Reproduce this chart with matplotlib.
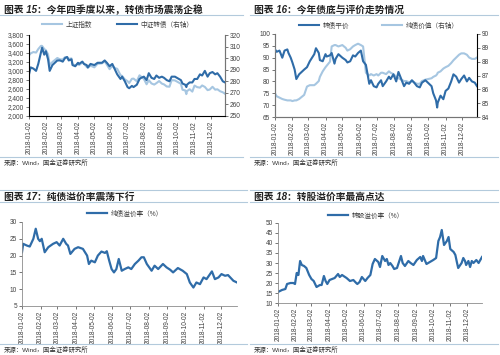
import numpy as np
import pandas as pd
import matplotlib
matplotlib.use("Agg")
import matplotlib.pyplot as plt
import matplotlib.dates as mdates
from matplotlib.ticker import FuncFormatter, MultipleLocator

plt.rcParams['font.family'] = ['Liberation Sans', 'Noto Sans CJK SC']

# ---------------- data ----------------
# chart 15: 上证指数 (left) / 中证转债 (right)
d15 = ["01-02","01-05","01-10","01-15","01-19","01-24","01-26","01-30","02-02","02-06",
       "02-09","02-14","02-23","02-28","03-05","03-09","03-13","03-16","03-21","03-23",
       "03-28","04-02","04-04","04-10","04-13","04-18","04-20","04-25","05-02","05-08",
       "05-11","05-16","05-21","05-25","05-30","06-04","06-08","06-13","06-19","06-22",
       "06-27","07-02","07-05","07-10","07-13","07-19","07-24","07-27","08-01","08-06",
       "08-10","08-15","08-20","08-24","08-29","09-03","09-07","09-12","09-17","09-21",
       "09-27","10-08","10-11","10-16","10-18","10-19","10-24","10-29","11-02","11-07",
       "11-12","11-16","11-21","11-26","11-30","12-05","12-10","12-14","12-19","12-24","12-28"]
sh_index = [3349,3391,3421,3410,3487,3559,3558,3488,3462,3370,
            3129,3199,3289,3259,3256,3307,3310,3269,3280,3153,
            3122,3163,3131,3190,3159,3091,3071,3118,3081,3161,
            3163,3170,3213,3141,3041,3114,3067,3049,2908,2890,
            2813,2775,2733,2827,2831,2772,2905,2873,2824,2705,
            2795,2723,2698,2730,2777,2720,2702,2656,2651,2797,
            2791,2716,2583,2568,2486,2550,2595,2542,2676,2641,
            2630,2679,2646,2575,2588,2649,2585,2594,2550,2527,2494]
cb_index = [286,292,291,289,295,305,309,303,306,299,
            289,294,298,298,297,300,301,298,299,294,
            293,296,295,297,295,294,292,295,294,296,
            296,296,298,296,293,295,291,286,282,284,
            280,275,274,276,275,277,282,283,284,281,
            287,283,282,285,283,284,283,281,280,284,
            284,281,278,277,275,277,279,279,282,282,
            286,285,289,284,287,288,286,287,284,280,279]

# chart 16: 转债平价 (left) / 纯债价值 (right)
d16 = d15
parity = [93.5,92.5,93.0,90.0,93.0,93.5,92.0,90.0,88.0,85.0,
          81.0,83.0,85.0,86.0,88.5,90.0,91.5,94.0,92.0,89.0,
          88.5,91.5,90.5,91.0,92.0,87.5,89.5,91.5,90.0,89.0,
          88.0,88.5,91.0,90.5,92.0,93.0,88.5,87.0,79.0,80.5,
          78.0,77.5,79.0,80.5,78.0,80.0,82.0,81.0,83.0,80.0,
          84.0,81.0,78.0,79.5,79.0,80.5,79.5,78.0,77.5,79.5,
          80.5,78.0,75.0,72.0,69.0,71.0,74.0,72.5,76.0,77.0,
          80.0,83.0,82.0,79.5,81.0,82.5,80.0,81.5,80.0,79.5,78.0]
bond_value = [85.7,85.5,85.4,85.3,85.25,85.2,85.2,85.2,85.15,85.2,
              85.2,85.3,85.6,86.2,86.3,86.3,86.3,86.4,86.6,86.9,
              87.3,87.6,87.7,88.0,89.1,89.2,89.2,89.1,89.2,89.0,
              88.8,88.9,89.1,89.2,89.3,89.2,89.1,87.2,87.0,87.1,
              87.0,87.1,87.0,87.2,87.2,87.1,87.3,87.2,87.1,86.9,
              86.8,86.7,86.6,86.6,86.5,86.6,86.5,86.4,86.4,86.6,
              86.7,86.8,86.9,87.0,87.1,87.2,87.3,87.5,87.6,87.7,
              87.9,88.1,88.3,88.5,88.6,88.6,88.5,88.3,88.2,88.2,88.3]

# chart 17: 纯债溢价率 (%)
d17 = ["01-02","01-04","01-10","01-15","01-21","01-25","01-29","02-01","02-04","02-09",
       "02-15","02-23","03-01","03-06","03-12","03-17","03-20","03-24","03-31","04-06",
       "04-14","04-21","04-24","04-28","05-04","05-09","05-15","05-21","05-24","05-28",
       "06-01","06-05","06-09","06-13","06-18","06-23","06-29","07-04","07-10","07-16",
       "07-21","07-25","07-30","08-03","08-07","08-12","08-18","08-26","09-01","09-07",
       "09-12","09-20","09-28","10-05","10-10","10-16","10-21","10-27","11-02","11-07",
       "11-16","11-21","11-27","12-02","12-08","12-13","12-22","12-28"]
bond_premium = [21.0,23.5,23.0,22.7,25.0,28.0,25.0,24.3,25.0,21.0,
                22.5,23.5,24.0,23.0,25.0,23.5,23.0,20.5,22.0,22.5,
                22.0,20.0,17.5,18.5,18.0,20.0,21.2,20.8,21.3,18.5,
                16.0,15.0,16.0,19.0,15.5,16.0,16.5,16.0,17.5,18.5,
                19.5,19.5,17.5,16.5,15.5,17.0,16.0,17.5,16.5,15.8,
                15.0,16.3,15.5,14.5,12.0,10.5,12.0,11.5,13.5,13.0,
                15.3,13.0,13.5,14.5,14.0,14.2,12.5,12.0]

# chart 18: 转股溢价率 (%)
d18 = ["01-02","01-09","01-15","01-18","01-24","01-29","02-01","02-04","02-07","02-10",
       "02-13","02-17","02-21","02-26","03-02","03-06","03-11","03-17","03-20","03-24",
       "03-27","03-30","04-03","04-12","04-18","04-21","04-25","05-03","05-09","05-15",
       "05-20","05-22","05-26","05-30","06-05","06-09","06-14","06-18","06-22","06-28",
       "07-01","07-05","07-10","07-13","07-16","07-19","07-23","07-26","07-31","08-07",
       "08-10","08-14","08-20","08-24","08-29","09-04","09-10","09-13","09-15","09-21",
       "09-27","10-03","10-08","10-12","10-15","10-18","10-22","10-27","10-30","11-02",
       "11-08","11-11","11-14","11-16","11-22","11-25","11-28","11-30","12-04","12-07",
       "12-10","12-13","12-18","12-22","12-28"]
conv_premium = [15.5,16.5,17.0,19.5,20.0,20.0,19.5,25.0,24.0,31.0,
                29.0,28.5,27.5,24.0,22.0,21.0,18.0,19.0,19.0,23.5,
                21.0,19.5,21.5,22.5,24.5,23.0,24.0,22.5,21.0,21.5,
                20.0,19.5,20.5,23.0,21.0,22.5,24.0,29.5,32.0,30.5,
                28.0,33.5,31.0,32.0,29.0,30.0,28.5,27.0,27.5,33.5,
                30.0,28.5,31.0,30.0,29.0,31.5,33.0,31.0,33.5,29.5,
                30.5,31.5,32.5,41.0,43.0,46.5,39.0,41.0,43.0,37.0,
                35.5,34.0,30.0,27.5,30.0,32.5,31.0,29.0,31.0,28.0,
                31.0,30.0,31.5,30.0,33.0]

DARK = "#2f6ca8"
LIGHT = "#a6c6e1"
RULE = "#b3cadc"
TXT = "#404040"
W, H = 500, 355


def to_dt(lst):
    return pd.to_datetime(["2018-" + s for s in lst])


def box(l, t, r, b):
    return [l / W, 1 - b / H, (r - l) / W, (b - t) / H]


def frame(x0, x1, title, y_title, y_src, top_rule=None):
    # title, rules and source note
    y = 1 - y_title / H
    fig.text((x0 + 4) / W, y, title, fontsize=7, fontweight='bold', color="#222222",
             va='center', ha='left', style='italic')
    for yy in ([top_rule] if top_rule else []) + [y_title + 5, y_src - 6]:
        fig.add_artist(plt.Line2D([x0 / W, x1 / W], [1 - yy / H, 1 - yy / H],
                                  color=RULE, lw=0.8))
    fig.text((x0 + 4) / W, 1 - y_src / H, "来源：Wind，国金证券研究所", fontsize=4.6,
             color="#333333", va='center', ha='left')


def style_axes(ax, right=None):
    ax.spines['top'].set_visible(False)
    ax.spines['left'].set_color("#8c8c8c")
    ax.spines['bottom'].set_color("#8c8c8c")
    ax.spines['left'].set_linewidth(0.6)
    ax.spines['bottom'].set_linewidth(0.6)
    if right is None:
        ax.spines['right'].set_visible(False)
    ax.tick_params(axis='both', labelsize=4.7, colors=TXT, length=2, width=0.5,
                   pad=1.5, direction='out')
    ax.tick_params(axis='x', labelrotation=90)
    ax.xaxis.set_major_locator(mdates.MonthLocator(bymonthday=2))
    ax.xaxis.set_major_formatter(mdates.DateFormatter('%Y-%m-%d'))
    ax.set_xlim(pd.Timestamp('2018-01-02'), pd.Timestamp('2018-12-28'))


def style_right(axr):
    axr.spines['top'].set_visible(False)
    axr.spines['right'].set_color("#8c8c8c")
    axr.spines['right'].set_linewidth(0.6)
    axr.tick_params(axis='y', labelsize=4.7, colors=TXT, length=2, width=0.5, pad=1.5)


fig = plt.figure(figsize=(5, 3.55), dpi=100)
leg_kw = dict(loc='center', frameon=False, fontsize=4.8, handlelength=3.0,
              handletextpad=0.5, labelcolor=TXT)

# ---- chart 15 ----
frame(0, 243, "图表 15：今年四季度以来，转债市场震荡企稳", 10, 163)
ax = fig.add_axes(box(29, 35, 225, 116))
axr = ax.twinx()
l1, = ax.plot(to_dt(d15), sh_index, color=LIGHT, lw=1.5, label="上证指数")
l2, = axr.plot(to_dt(d15), cb_index, color=DARK, lw=1.5, label="中证转债（右轴）")
ax.set_ylim(2000, 3800)
ax.yaxis.set_major_locator(MultipleLocator(200))
ax.yaxis.set_major_formatter(FuncFormatter(lambda v, p: "{:,.0f}".format(v)))
axr.set_ylim(250, 320)
axr.yaxis.set_major_locator(MultipleLocator(10))
style_axes(ax, right=True)
style_right(axr)
fig.legend([l1, l2], [l1.get_label(), l2.get_label()], ncol=2, columnspacing=3.8,
           bbox_to_anchor=(118 / W, 1 - 25 / H), **leg_kw)

# ---- chart 16 ----
frame(250, 498, "图表 16：今年债底与评价走势情况", 10, 163)
ax = fig.add_axes(box(275, 34, 477, 117))
axr = ax.twinx()
l2, = axr.plot(to_dt(d16), bond_value, color=LIGHT, lw=1.5, label="纯债价值（右轴）")
l1, = ax.plot(to_dt(d16), parity, color=DARK, lw=1.5, label="转债平价")
ax.set_zorder(axr.get_zorder() + 1)
ax.patch.set_visible(False)
ax.set_ylim(65, 100)
ax.yaxis.set_major_locator(MultipleLocator(5))
axr.set_ylim(84, 90)
axr.yaxis.set_major_locator(MultipleLocator(1))
style_axes(ax, right=True)
style_right(axr)
fig.legend([l1, l2], [l1.get_label(), l2.get_label()], ncol=2, columnspacing=5.0,
           bbox_to_anchor=(379 / W, 1 - 26 / H), **leg_kw)

# ---- chart 17 ----
frame(0, 247, "图表 17：纯债溢价率震荡下行", 197, 350, top_rule=190)
ax = fig.add_axes(box(22, 222, 237, 306))
l1, = ax.plot(to_dt(d17), bond_premium, color=DARK, lw=1.6, label="纯债溢价率（%）")
ax.set_ylim(5, 30)
ax.yaxis.set_major_locator(MultipleLocator(5))
style_axes(ax)
fig.legend([l1], [l1.get_label()], bbox_to_anchor=(125 / W, 1 - 214 / H), **leg_kw)

# ---- chart 18 ----
frame(250, 498, "图表 18：转股溢价率最高点达", 197, 350, top_rule=190)
ax = fig.add_axes(box(278, 223, 482, 303))
l1, = ax.plot(to_dt(d18), conv_premium, color=DARK, lw=1.6, label="转股溢价率（%）")
ax.set_ylim(10, 50)
ax.yaxis.set_major_locator(MultipleLocator(5))
style_axes(ax)
fig.legend([l1], [l1.get_label()], bbox_to_anchor=(366 / W, 1 - 216 / H), **leg_kw)

fig.savefig("out.png", dpi=100)
